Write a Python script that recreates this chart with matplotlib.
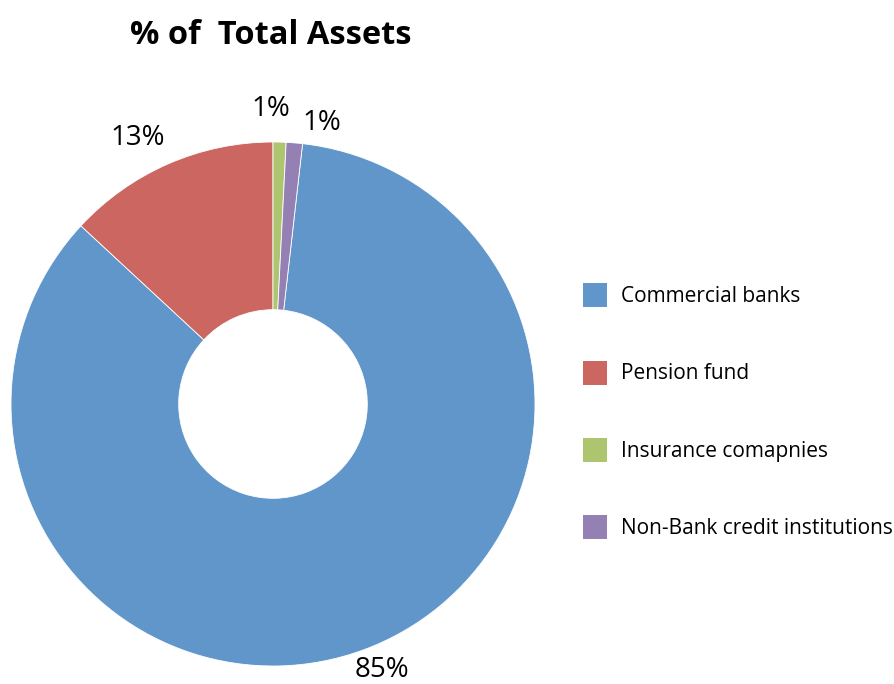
import numpy as np
import matplotlib
matplotlib.use("Agg")
from matplotlib import pyplot as plt
from matplotlib.patches import Patch

plt.rcParams['font.family'] = ['Open Sans', 'DejaVu Sans']

# share of total assets by institution type (%)
categories = ["Commercial banks", "Pension fund", "Insurance comapnies", "Non-Bank credit institutions"]
shares = [85.1, 13.1, 0.8, 1.0]
colors = ["#6196CB", "#CC6660", "#AEC56F", "#9580B4"]
title = "% of  Total Assets"

fig = plt.figure(figsize=(8.95, 6.84), dpi=100)
ax = fig.add_axes([11 / 895, 18 / 684, 524 / 895, 524 / 684])

# blue slice starts just past 12 o'clock, wedges run clockwise
start = 90 - 360 * (shares[2] + shares[3]) / 100
wedges, _ = ax.pie(shares, colors=colors, startangle=start, counterclock=False,
                   wedgeprops=dict(width=0.64, edgecolor="white", linewidth=0.6))
ax.set_xlim(-1, 1)
ax.set_ylim(-1, 1)
ax.set_aspect("equal")
ax.axis("off")

# percentage labels just outside the ring (radius, angular nudge in degrees)
label_r = [1.085, 1.15, 1.14, 1.10]
label_shift = [-2.3, -3.0, -1.8, 5.1]
for w, v, r, sh in zip(wedges, shares, label_r, label_shift):
    mid = np.deg2rad((w.theta1 + w.theta2) / 2 - sh)
    ax.text(r * np.cos(mid), r * np.sin(mid), f"{v:.0f}%", ha="center", va="center_baseline",
            fontsize=20, clip_on=False)

fig.text(271 / 895, 1 - 36 / 684, title, ha="center", va="center", fontsize=23.5, fontweight="bold")

handles = [Patch(facecolor=c, edgecolor="none") for c in colors]
fig.legend(handles, categories, loc="upper left", bbox_to_anchor=(575 / 895, 1 - 275 / 684),
           frameon=False, fontsize=15, handlelength=1.15, handleheight=1.4,
           handletextpad=0.65, labelspacing=2.55, borderaxespad=0)

fig.savefig("out.png", dpi=100)
